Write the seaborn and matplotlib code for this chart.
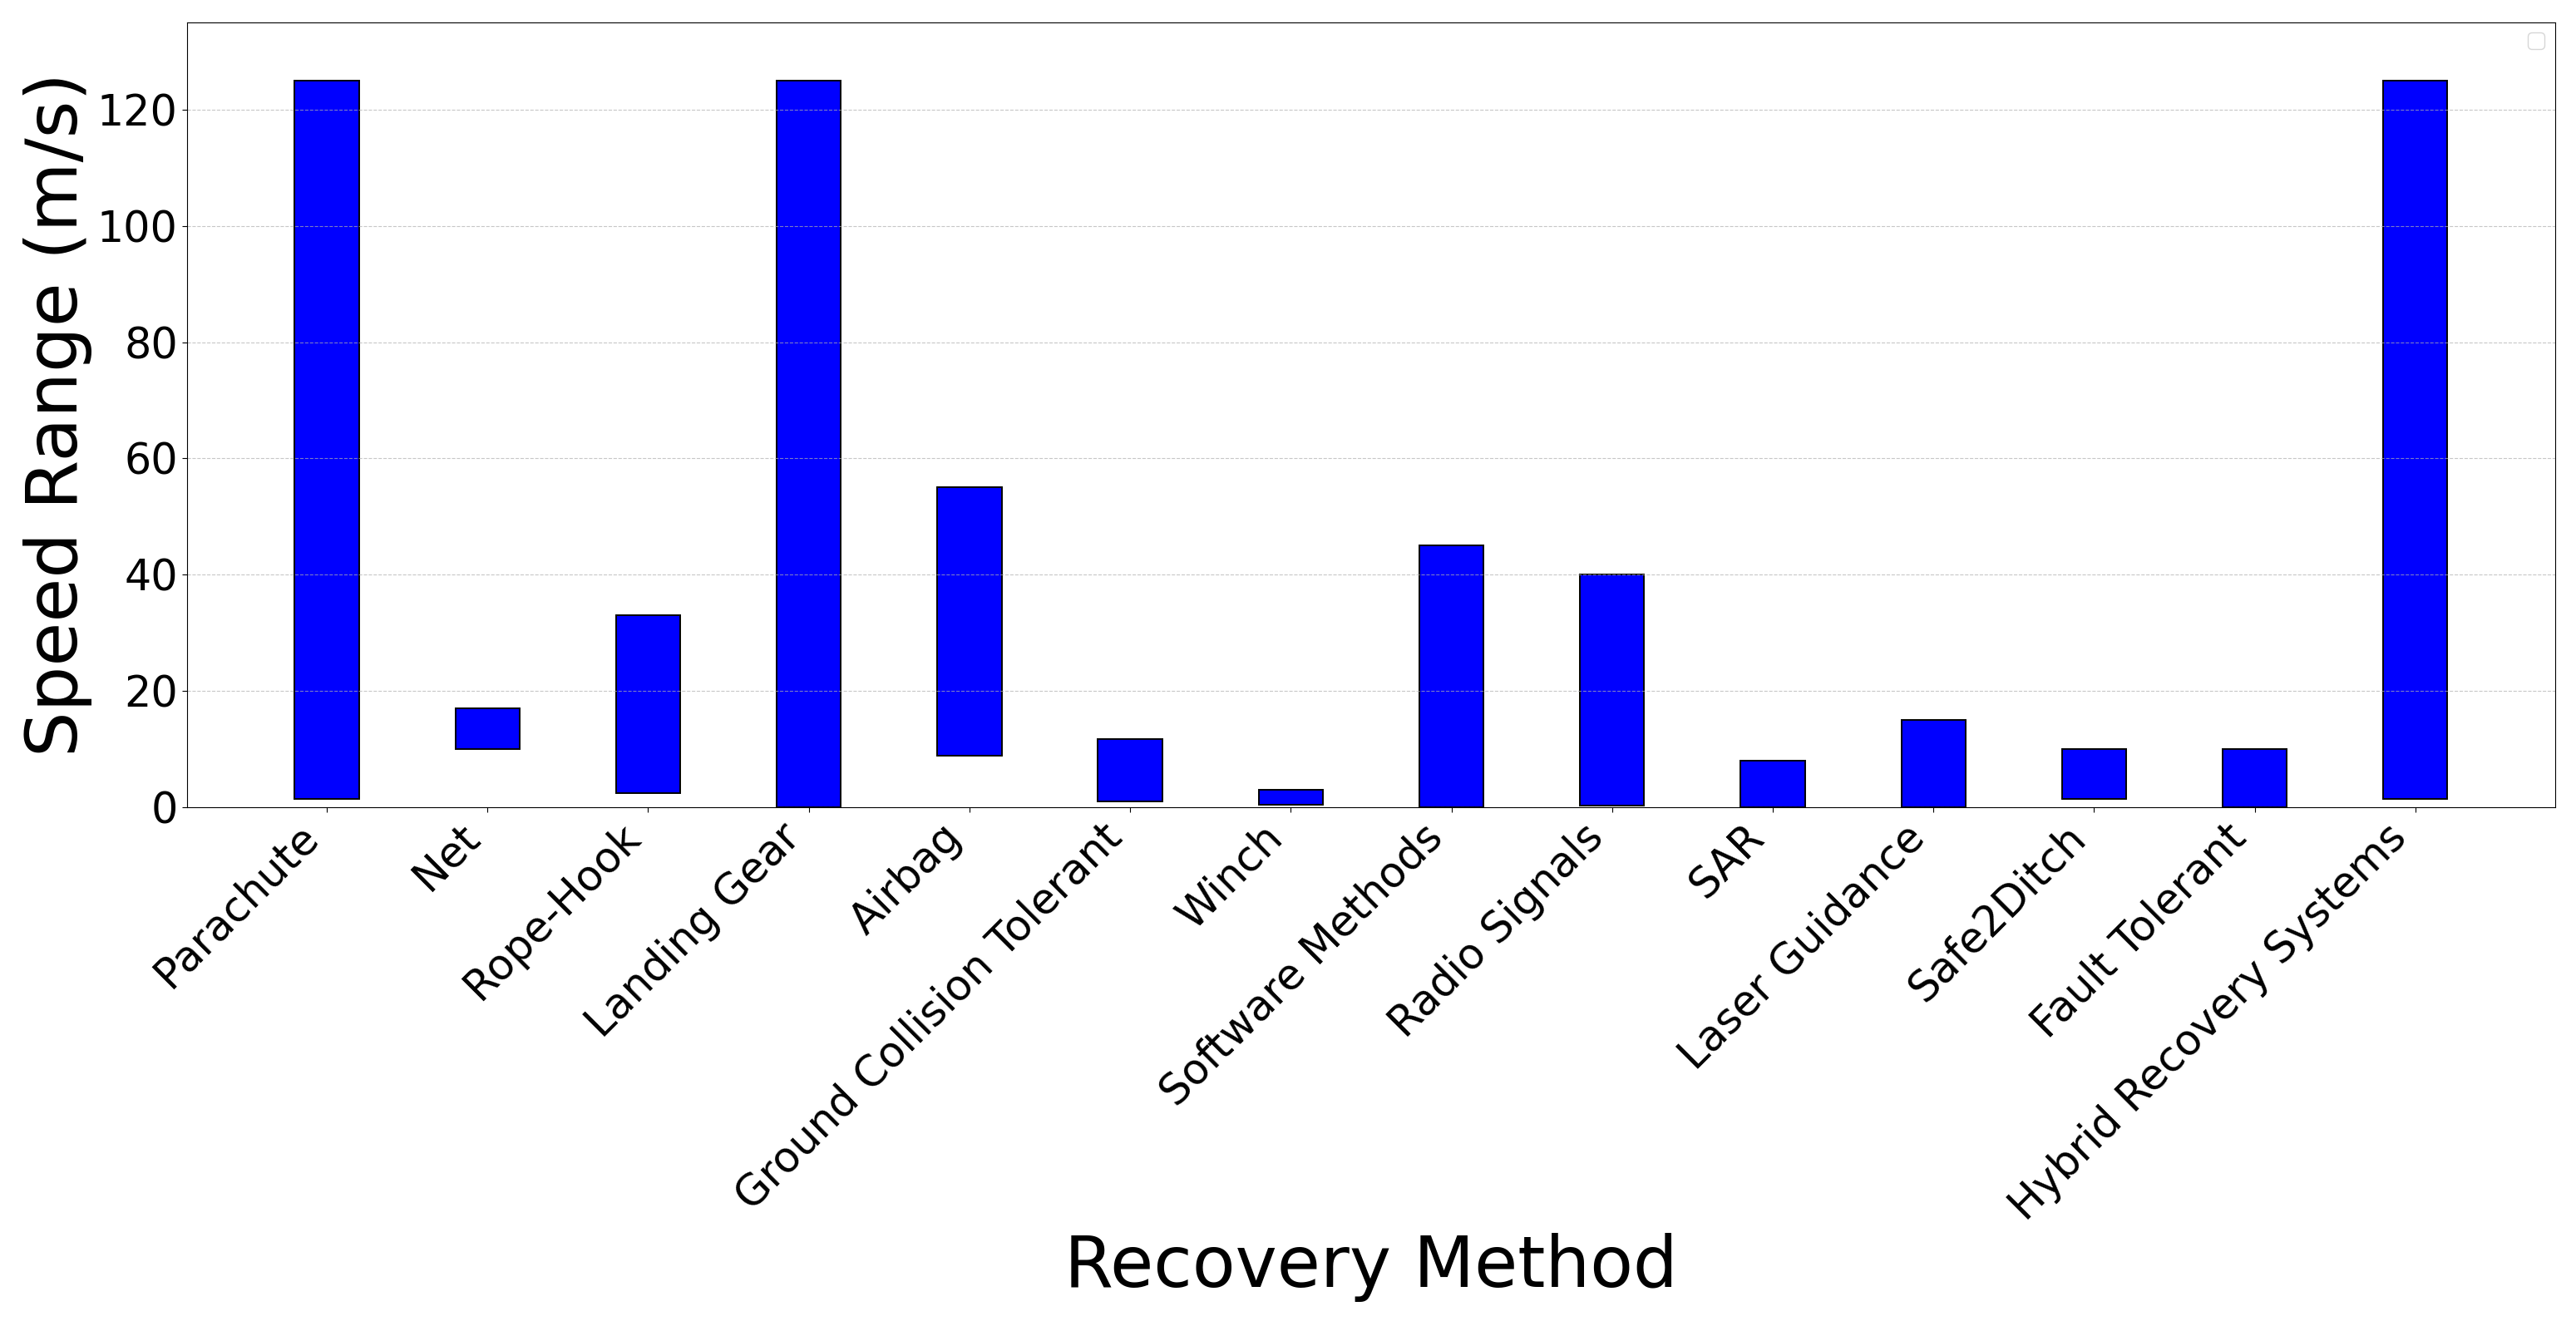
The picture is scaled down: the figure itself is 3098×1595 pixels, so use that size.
import pandas as pd
import matplotlib.pyplot as plt
import seaborn as sns

# Recovery methods and their speed ranges (m/s)
methods = ['Parachute', 'Net', 'Rope-Hook', 'Landing Gear', 'Airbag',
           'Ground Collision Tolerant', 'Winch', 'Software Methods',
           'Radio Signals', 'SAR', 'Laser Guidance', 'Safe2Ditch',
           'Fault Tolerant', 'Hybrid Recovery Systems']
speed_min = [1.5, 10, 2.5, 0, 8.89, 1, 0.5, 0, 0.28, 0, 0, 1.5, 0, 1.5]
speed_max = [125, 17, 33, 125, 55, 11.67, 3, 45, 40, 8, 15, 10, 10, 125]

df = pd.DataFrame({'Method': methods, 'Min': speed_min, 'Max': speed_max})
df['Span'] = df['Max'] - df['Min']

fig, ax = plt.subplots(figsize=(30.98, 15.95), dpi=100)

# floating bars: height = range span, starting at the minimum speed
sns.barplot(data=df, x='Method', y='Span', bottom=df['Min'].values,
            width=0.4, color='blue', saturation=1, edgecolor='black',
            linewidth=1.4, errorbar=None, ax=ax)

ax.set_xlim(-0.87, len(methods) - 1 + 0.87)
ax.set_ylim(0, 135)

ax.set_xlabel('Recovery Method', fontsize=61)
ax.set_ylabel('Speed Range (m/s)', fontsize=62)
ax.tick_params(axis='both', labelsize=36.5, length=4.5)
plt.setp(ax.get_xticklabels(), rotation=45, ha='right')

ax.yaxis.grid(True, linestyle='--', alpha=0.7)
# empty legend box, as in the original figure
ax.legend(handles=[], loc='upper right', fontsize=18)

fig.subplots_adjust(left=0.0726, right=0.9919, top=0.9831, bottom=0.3912)
plt.savefig('out.png', dpi=100)
plt.close(fig)
